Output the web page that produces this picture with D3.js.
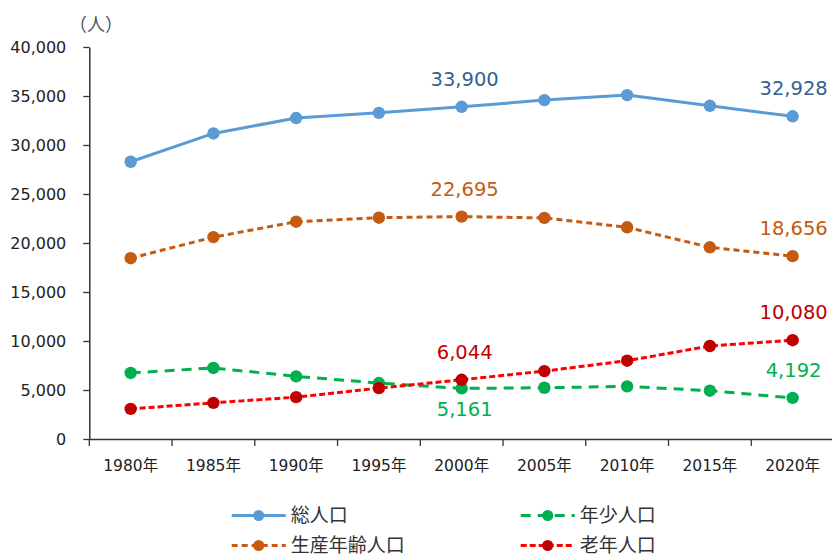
<!DOCTYPE html>
<html><head><meta charset="utf-8">
<script src="https://cdn.jsdelivr.net/npm/d3@7"></script>
<style>
body{margin:0;background:#fff;}
svg{display:block;}
</style></head>
<body>
<svg id="chart" width="832" height="557"></svg>
<script>
const years = ["1980年","1985年","1990年","1995年","2000年","2005年","2010年","2015年","2020年"];
const total = [28290, 31180, 32750, 33280, 33900, 34580, 35090, 34000, 32928];
const working = [18450, 20600, 22170, 22580, 22695, 22560, 21600, 19560, 18656];
const young = [6740, 7250, 6390, 5710, 5161, 5230, 5370, 4930, 4192];
const elderly = [3070, 3690, 4270, 5190, 6044, 6930, 7990, 9490, 10080];
const seriesNames = ["総人口","年少人口","生産年齢人口","老年人口"];
const yTicks = [0,5000,10000,15000,20000,25000,30000,35000,40000];
const unitLabel = "（人）";

const numFont = "'DejaVu Sans', Verdana, sans-serif";
const cjkFont = "'DejaVu Sans','Noto Sans CJK JP', sans-serif";

const svg = d3.select("#chart");
const x = d3.scaleBand().domain(years).range([89.3, 834]).paddingInner(0).paddingOuter(0);
const y = d3.scaleLinear().domain([0, 40000]).range([439, 47]);
const cx = d => x(d) + x.bandwidth()/2;

const series = [
  {name:seriesNames[0], values: total, line:"#5B9BD5", marker:"#5B9BD5", dash:null, label:"#34618F", labelIdx:[4,8], below:[]},
  {name:seriesNames[2], values: working, line:"#C55A11", marker:"#C55A11", dash:"6,4", label:"#C55A11", labelIdx:[4,8], below:[]},
  {name:seriesNames[1], values: young, line:"#00B050", marker:"#00B050", dash:"10,7", label:"#00B050", labelIdx:[4,8], below:[4]},
  {name:seriesNames[3], values: elderly, line:"#FF0000", marker:"#C00000", dash:"6,3", label:"#C00000", labelIdx:[4,8], below:[]}
];

// Y axis
const yAxis = d3.axisLeft(y).tickValues(yTicks).tickFormat(d3.format(",")).tickSize(6).tickSizeOuter(0).tickPadding(17);
const gy = svg.append("g").attr("transform","translate(89.3,0)").call(yAxis);
gy.select(".domain").attr("stroke","#333").attr("stroke-width",1.5);
gy.selectAll(".tick line").attr("stroke","#333").attr("stroke-width",1.3);
gy.selectAll(".tick text").attr("font-family",numFont).attr("font-size",16).attr("fill","#222");

// X axis
const xAxis = d3.axisBottom(x).tickSize(0).tickPadding(21);
const gx = svg.append("g").attr("transform","translate(0,439)").call(xAxis);
gx.select(".domain").attr("stroke","#333").attr("stroke-width",1.5);
gx.selectAll(".tick text").attr("font-family",cjkFont).attr("font-size",15.5).attr("fill","#222");
svg.append("g").selectAll("line").data(years).join("line")
  .attr("x1", d => x(d)).attr("x2", d => x(d))
  .attr("y1", 439).attr("y2", 446)
  .attr("stroke","#333").attr("stroke-width",1.3);

// unit
svg.append("text").attr("x",96).attr("y",31).attr("text-anchor","middle")
  .attr("font-family","'Noto Sans CJK JP', sans-serif").attr("font-size",18).attr("fill","#555").text(unitLabel);

// lines
const lineGen = d3.line().x((v,i) => cx(years[i])).y(v => y(v));
series.forEach(s => {
  svg.append("path").datum(s.values).attr("d", lineGen)
    .attr("fill","none").attr("stroke", s.line).attr("stroke-width",3)
    .attr("stroke-dasharray", s.dash);
});
series.forEach(s => {
  svg.append("g").selectAll("circle").data(s.values).join("circle")
    .attr("cx",(v,i) => cx(years[i])).attr("cy", v => y(v)).attr("r",6.2)
    .attr("fill", s.marker);
});
// labels
series.forEach(s => {
  s.labelIdx.forEach(i => {
    const below = s.below.includes(i);
    svg.append("text")
      .attr("x", cx(years[i]) + (i===4 ? 3 : 1))
      .attr("y", y(s.values[i]) + (below ? 28 : -21))
      .attr("text-anchor","middle")
      .attr("font-family", numFont).attr("font-size",19.5)
      .attr("fill", s.label)
      .text(d3.format(",")(s.values[i]));
  });
});

// legend
const legendItems = [
  {s: series[0], x: 231.7, y: 515.5},
  {s: series[2], x: 520.7, y: 515.5},
  {s: series[1], x: 231.7, y: 545.5},
  {s: series[3], x: 520.7, y: 545.5}
];
legendItems.forEach(it => {
  const g = svg.append("g");
  const lx2 = it.x + 54;
  g.append("line").attr("x1", it.x).attr("x2", lx2).attr("y1", it.y).attr("y2", it.y)
    .attr("stroke", it.s.line).attr("stroke-width",3).attr("stroke-dasharray", it.s.dash);
  g.append("circle").attr("cx", it.x + 27).attr("cy", it.y).attr("r",5.5).attr("fill", it.s.marker);
  g.append("text").attr("x", lx2 + 5).attr("y", it.y).attr("dy","0.34em")
    .attr("font-family","'Noto Sans CJK JP', sans-serif").attr("font-size",19).attr("fill","#333")
    .text(it.s.name);
});
</script>
</body></html>
